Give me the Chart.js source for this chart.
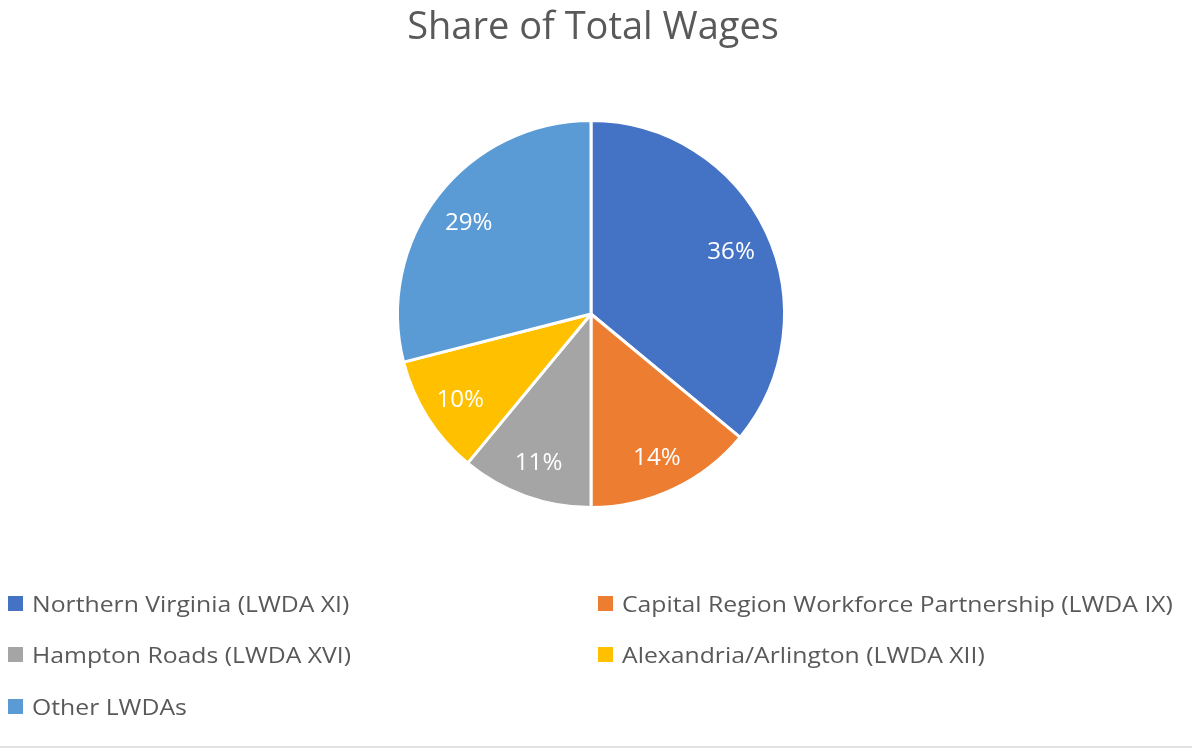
<!DOCTYPE html>
<html>
<head>
<meta charset="utf-8">
<script src="https://cdn.jsdelivr.net/npm/chart.js@4.4.0/dist/chart.umd.min.js"></script>
<style>
  html, body { margin: 0; padding: 0; background: #fff; }
  #wrap { position: relative; width: 1192px; height: 746px; border-bottom: 2px solid #e2e2e2; }
</style>
</head>
<body>
<div id="wrap"><canvas id="wagesPie" width="1192" height="746"></canvas></div>
<script>
const chartTitle = "Share of Total Wages";
const regions = [
    "Northern Virginia (LWDA XI)",
    "Capital Region Workforce Partnership (LWDA IX)",
    "Hampton Roads (LWDA XVI)",
    "Alexandria/Arlington (LWDA XII)",
    "Other LWDAs"
];
const wageShares = [36, 14, 11, 10, 29];
const sliceColors = ["#4472C4", "#ED7D31", "#A5A5A5", "#FFC000", "#5B9BD5"];

const textGrey = "#595959";
const fontFamily = "'Open Sans', 'Noto Sans', sans-serif";

// stretched text, the source picture is a bit wider than tall
function wideText(ctx, str, x, y, sx) {
    ctx.save();
    ctx.translate(x, y);
    ctx.scale(sx, 1);
    ctx.fillText(str, 0, 0);
    ctx.restore();
}

// title, slice percentages and two-column legend drawn by hand (Excel style)
const excelDecor = {
    id: "excelDecor",
    afterDatasetsDraw(chart) {
        const ctx = chart.ctx;
        const meta = chart.getDatasetMeta(0);
        const total = wageShares.reduce((a, b) => a + b, 0);

        ctx.save();
        ctx.fillStyle = "#fff";
        ctx.font = "23px " + fontFamily;
        ctx.textAlign = "center";
        ctx.textBaseline = "middle";
        meta.data.forEach((arc, i) => {
            const p = arc.getProps(["x", "y", "startAngle", "endAngle", "outerRadius"], true);
            const mid = (p.startAngle + p.endAngle) / 2;
            const d = p.outerRadius * 0.8;
            const pct = Math.round(wageShares[i] / total * 100) + "%";
            wideText(ctx, pct, p.x + Math.cos(mid) * d, p.y + Math.sin(mid) * d + 4, 1.05);
        });

        ctx.fillStyle = textGrey;
        ctx.font = "38px " + fontFamily;
        ctx.textBaseline = "alphabetic";
        ctx.fillText(chartTitle, chart.width / 2 - 3, 39);

        ctx.font = "22px " + fontFamily;
        ctx.textAlign = "left";
        const colX = [8, 598];
        const rowY = [612, 663, 715];
        regions.forEach((name, i) => {
            const x = colX[i % 2];
            const y = rowY[Math.floor(i / 2)];
            ctx.fillStyle = sliceColors[i];
            ctx.fillRect(x, y - 16, 15, 15);
            ctx.fillStyle = textGrey;
            wideText(ctx, name, x + 24, y, 1.125);
        });
        ctx.restore();
    }
};

new Chart(document.getElementById("wagesPie"), {
    type: "pie",
    data: {
        labels: regions,
        datasets: [{
            data: wageShares,
            backgroundColor: sliceColors,
            borderColor: "#fff",
            borderWidth: 3,
            hoverOffset: 0
        }]
    },
    options: {
        responsive: false,
        animation: false,
        layout: { padding: { top: 118, bottom: 236, left: 396, right: 406 } },
        plugins: {
            legend: { display: false },
            title: { display: false },
            tooltip: { enabled: false }
        }
    },
    plugins: [excelDecor]
});
</script>
</body>
</html>
